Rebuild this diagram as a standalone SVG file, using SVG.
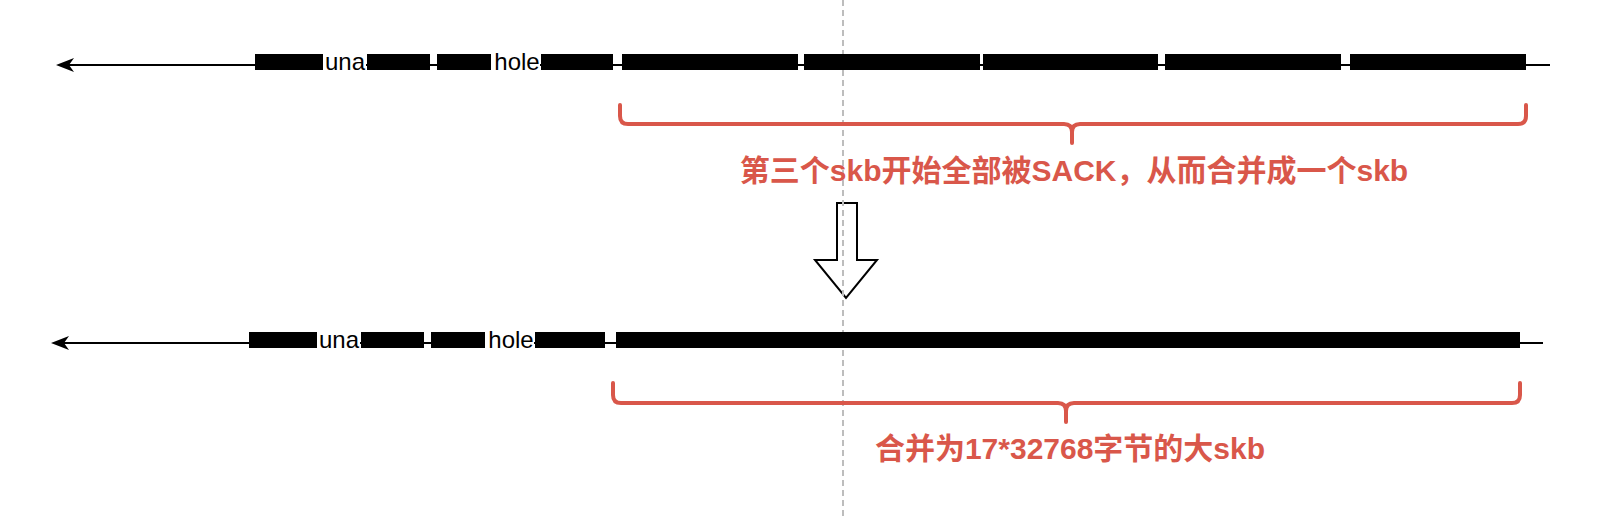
<svg xmlns="http://www.w3.org/2000/svg" width="1604" height="520" viewBox="0 0 1604 520">
<style>
.bar{fill:#000}
.axis{stroke:#000;stroke-width:2;fill:none}
.lblbg{fill:#fff}
.lbl{font-family:"Liberation Sans",Arial,sans-serif;font-size:24px;fill:#000;text-anchor:middle}
.brace{fill:none;stroke:#D9574A;stroke-width:4;stroke-linecap:round;stroke-linejoin:round}
.note{font-family:"Liberation Sans","Noto Sans CJK SC",sans-serif;font-size:30px;font-weight:bold;fill:#D9574A;text-anchor:middle}
.guide{stroke:#BDBDBD;stroke-width:2;stroke-dasharray:6 4;fill:none}
.bigarrow{fill:#fff;stroke:#000;stroke-width:2;stroke-linejoin:miter}
</style>
<defs>
<marker id="ah" viewBox="0 0 18 14" refX="7" refY="7" markerWidth="18" markerHeight="14" markerUnits="userSpaceOnUse" orient="auto">
<path d="M0,0 L18,7 L0,14 L5,7 Z" fill="#000"/>
</marker>
</defs>
<rect width="1604" height="520" fill="#fff"/>
<g id="transition-arrow">
<polygon class="bigarrow" points="837,203 857,203 857,260 877,260 846,298 815,260 837,260"/>
</g>
<g id="guide-line">
<line class="guide" x1="843" y1="0" x2="843" y2="520"/>
</g>
<g id="connectors">
<path class="axis" d="M1550,65 H67" marker-end="url(#ah)"/>
<path class="axis" d="M1543,343 H62" marker-end="url(#ah)"/>
</g>
<g id="row-before">
<rect class="bar" x="255" y="54" width="68" height="16"/>
<rect class="bar" x="367" y="54" width="63" height="16"/>
<rect class="bar" x="437" y="54" width="54" height="16"/>
<rect class="bar" x="541" y="54" width="72" height="16"/>
<rect class="bar" x="622" y="54" width="176" height="16"/>
<rect class="bar" x="804" y="54" width="176" height="16"/>
<rect class="bar" x="983" y="54" width="175" height="16"/>
<rect class="bar" x="1165" y="54" width="176" height="16"/>
<rect class="bar" x="1350" y="54" width="176" height="16"/>
<rect class="lblbg" x="323" y="54" width="43" height="16"/>
<rect class="lblbg" x="491" y="54" width="49" height="16"/>
<text class="lbl" x="345" y="70">una</text>
<text class="lbl" x="517" y="70">hole</text>
</g>
<g id="brace-before">
<path class="brace" d="M620,105 V116 Q620,124 628,124 H1064 Q1072,124 1072,132 V143 M1072,132 Q1072,124 1080,124 H1518 Q1526,124 1526,116 V105"/>
<text class="note" x="1074" y="181">第三个skb开始全部被SACK，从而合并成一个skb</text>
</g>
<g id="row-after">
<rect class="bar" x="249" y="332" width="68" height="16"/>
<rect class="bar" x="361" y="332" width="63" height="16"/>
<rect class="bar" x="431" y="332" width="54" height="16"/>
<rect class="bar" x="535" y="332" width="70" height="16"/>
<rect class="bar" x="616" y="332" width="904" height="16"/>
<rect class="lblbg" x="317" y="332" width="43" height="16"/>
<rect class="lblbg" x="485" y="332" width="49" height="16"/>
<text class="lbl" x="339" y="348">una</text>
<text class="lbl" x="511" y="348">hole</text>
</g>
<g id="brace-after">
<path class="brace" d="M613,383 V395 Q613,403 621,403 H1058 Q1066,403 1066,411 V422 M1066,411 Q1066,403 1074,403 H1512 Q1520,403 1520,395 V383"/>
<text class="note" x="1070" y="459">合并为17*32768字节的大skb</text>
</g>
</svg>
